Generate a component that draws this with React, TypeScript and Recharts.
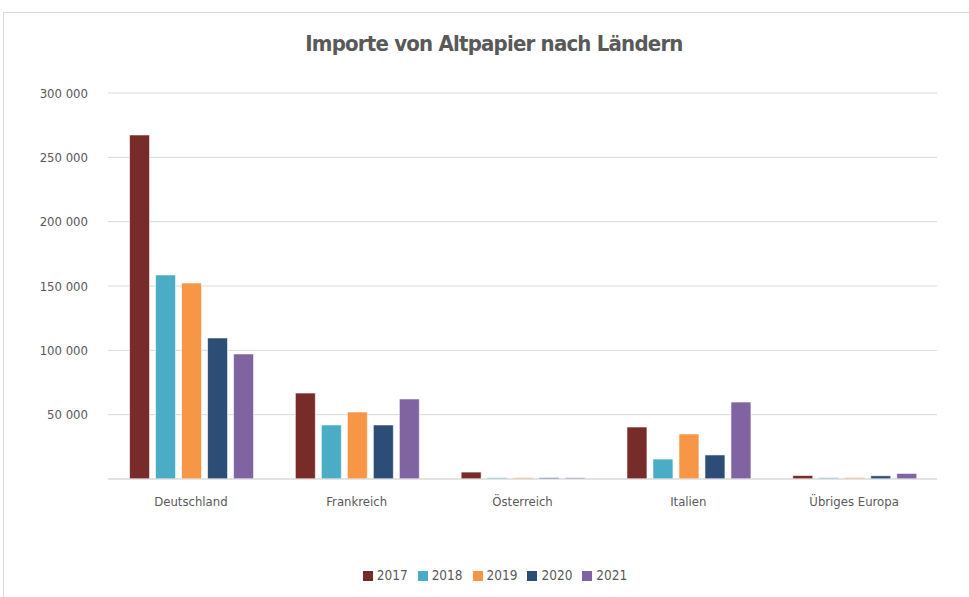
import React from "react";
import { BarChart, Bar, XAxis, YAxis, CartesianGrid, Legend } from "recharts";

const countries = ["Deutschland", "Frankreich", "Österreich", "Italien", "Übriges Europa"];
const years = ["2017", "2018", "2019", "2020", "2021"];
const v2017 = [267400, 66800, 5400, 40400, 2700];
const v2018 = [158600, 42000, 1000, 15500, 1000];
const v2019 = [152300, 52100, 1000, 35000, 1000];
const v2020 = [109600, 42000, 1000, 18700, 2500];
const v2021 = [97200, 62200, 1000, 59800, 4300];
const yTicks = [0, 50000, 100000, 150000, 200000, 250000, 300000];
const colors = ["#772C2A", "#4BACC6", "#F79646", "#2C4D75", "#8064A2"];

const seriesValues = [v2017, v2018, v2019, v2020, v2021];
const data = countries.map((c, i) => {
  const row: Record<string, string | number> = { name: c };
  years.forEach((y, j) => {
    row[y] = seriesValues[j][i];
  });
  return row;
});

const FONT = "'DejaVu Sans Condensed', 'Liberation Sans Narrow', sans-serif";

const fmt = (v: number) =>
  v === 0 ? "" : String(v).replace(/\B(?=(\d{3})+(?!\d))/g, " ");

export default function App() {
  return (
    <div
      style={{
        position: "absolute",
        left: 0,
        top: 0,
        width: 969,
        height: 597,
        overflow: "hidden",
        background: "#fff",
        fontFamily: FONT,
      }}
    >
      <div
        style={{
          position: "absolute",
          left: 3,
          top: 12,
          width: 1000,
          height: 700,
          border: "1px solid #d9d9d9",
          boxSizing: "border-box",
        }}
      />
      <div
        style={{
          position: "absolute",
          left: 0,
          top: 31,
          width: 988,
          textAlign: "center",
          fontSize: 22,
          fontWeight: "bold",
          color: "#595959",
          fontFamily: FONT,
          letterSpacing: -0.8,
        }}
      >
        Importe von Altpapier nach Ländern
      </div>
      <div style={{ position: "absolute", left: 0, top: 0 }}>
        <BarChart
          width={969}
          height={597}
          data={data}
          margin={{ top: 93, right: 32, bottom: 88, left: 0 }}
          barCategoryGap="13%"
          barGap={6}
        >
          <CartesianGrid vertical={false} stroke="#d9d9d9" strokeWidth={1} />
          <XAxis
            dataKey="name"
            axisLine={{ stroke: "#d9d9d9" }}
            tickLine={false}
            tick={{ fill: "#595959", fontSize: 13, fontFamily: FONT }}
            tickMargin={12}
            height={30}
          />
          <YAxis
            domain={[0, 300000]}
            ticks={yTicks}
            tickFormatter={fmt}
            axisLine={false}
            tickLine={false}
            width={108}
            tickMargin={14}
            tick={{ fill: "#595959", fontSize: 13, fontFamily: FONT }}
          />
          <Legend
            layout="horizontal"
            verticalAlign="middle"
            align="center"
            iconType="square"
            iconSize={10}
            wrapperStyle={{ top: 567, left: 6, width: 988, fontFamily: FONT, fontSize: 13.5 }}
            formatter={(value: string) => <span style={{ color: "#595959" }}>{value}</span>}
          />
          {years.map((y, i) => (
            <Bar
              key={y}
              dataKey={y}
              fill={colors[i]}
              stroke="#ffffff"
              strokeWidth={0.6}
              isAnimationActive={false}
            />
          ))}
        </BarChart>
      </div>
    </div>
  );
}
